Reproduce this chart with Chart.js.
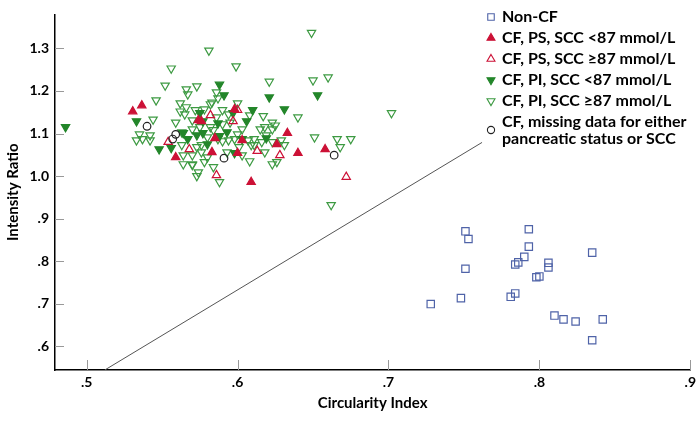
<!DOCTYPE html>
<html>
<head>
<meta charset="utf-8">
<script src="https://cdn.jsdelivr.net/npm/chart.js@4.4.1/dist/chart.umd.min.js"></script>
<style>
html, body { margin: 0; padding: 0; background: #fff; }
</style>
</head>
<body>
<canvas id="myChart" width="700" height="425"></canvas>
<script>
// tick values on both axes
var xTicks = [0.5, 0.6, 0.7, 0.8, 0.9];
var yTicks = [0.6, 0.7, 0.8, 0.9, 1.0, 1.1, 1.2, 1.3];

// [circularity index, intensity ratio]
var nonCF = [
    [0.751, 0.870], [0.753, 0.852], [0.793, 0.875], [0.793, 0.834], [0.835, 0.820],
    [0.790, 0.810], [0.786, 0.797], [0.784, 0.792], [0.806, 0.796], [0.806, 0.785],
    [0.751, 0.782], [0.798, 0.762], [0.800, 0.764], [0.784, 0.724], [0.781, 0.716],
    [0.748, 0.713], [0.728, 0.699], [0.810, 0.672], [0.816, 0.663], [0.824, 0.658],
    [0.842, 0.663], [0.835, 0.614]
];
var psLow = [
    [0.5305, 1.152], [0.5365, 1.166], [0.574, 1.131], [0.576, 1.129], [0.598, 1.157],
    [0.585, 1.089], [0.583, 1.056], [0.559, 1.044], [0.600, 1.054], [0.603, 1.084],
    [0.633, 1.101], [0.626, 1.075], [0.640, 1.054], [0.658, 1.063], [0.609, 0.986]
];
var psHigh = [
    [0.582, 1.143], [0.600, 1.155], [0.597, 1.129], [0.554, 1.080], [0.568, 1.063],
    [0.613, 1.059], [0.628, 1.049], [0.586, 1.002], [0.672, 0.998]
];
var piLow = [
    [0.486, 1.115], [0.533, 1.129], [0.548, 1.063], [0.556, 1.066], [0.564, 1.101],
    [0.567, 1.087], [0.573, 1.096], [0.575, 1.148], [0.577, 1.129], [0.577, 1.101],
    [0.580, 1.075], [0.587, 1.124], [0.588, 1.215], [0.591, 1.190], [0.588, 1.094],
    [0.593, 1.103], [0.597, 1.148], [0.598, 1.054], [0.603, 1.087], [0.606, 1.129],
    [0.610, 1.155], [0.619, 1.089], [0.621, 1.185], [0.631, 1.157], [0.653, 1.190]
];
var piHigh = [
    [0.649, 1.337], [0.581, 1.295], [0.599, 1.258], [0.556, 1.253], [0.621, 1.222],
    [0.650, 1.225], [0.660, 1.232], [0.702, 1.148], [0.640, 1.138], [0.651, 1.091],
    [0.666, 1.087], [0.675, 1.087], [0.668, 1.068], [0.662, 0.932], [0.623, 1.028],
    [0.588, 0.986], [0.584, 1.021], [0.573, 1.000], [0.570, 1.028], [0.552, 1.213],
    [0.573, 1.211], [0.566, 1.204], [0.567, 1.192], [0.546, 1.178], [0.562, 1.171],
    [0.566, 1.162], [0.562, 1.152], [0.565, 1.145], [0.570, 1.131], [0.572, 1.155],
    [0.583, 1.173], [0.587, 1.183], [0.578, 1.157], [0.570, 1.110], [0.563, 1.103],
    [0.535, 1.098], [0.542, 1.096], [0.533, 1.084], [0.537, 1.087], [0.542, 1.084],
    [0.544, 1.133], [0.563, 1.073], [0.564, 1.049], [0.570, 1.049], [0.564, 1.028],
    [0.570, 1.026], [0.574, 1.009], [0.580, 1.044], [0.576, 1.073], [0.576, 1.056],
    [0.573, 1.068], [0.587, 1.087], [0.594, 1.084], [0.598, 1.087], [0.607, 1.084],
    [0.611, 1.073], [0.608, 1.035], [0.631, 1.073], [0.629, 1.084], [0.603, 1.049],
    [0.593, 1.056], [0.600, 1.171], [0.590, 1.155], [0.617, 1.141], [0.623, 1.126],
    [0.625, 1.119], [0.615, 1.110], [0.618, 1.115], [0.608, 1.143], [0.590, 1.122],
    [0.586, 1.138], [0.582, 1.169], [0.594, 1.145], [0.623, 1.110], [0.580, 1.091],
    [0.590, 1.082], [0.609, 1.073], [0.611, 1.087], [0.619, 1.096], [0.623, 1.080],
    [0.626, 1.033], [0.559, 1.126], [0.603, 1.110], [0.600, 1.098], [0.616, 1.080],
    [0.586, 1.197], [0.595, 1.126], [0.582, 1.115], [0.575, 1.115], [0.584, 1.108],
    [0.601, 1.068], [0.618, 1.056], [0.578, 1.033]
];
var missing = [
    [0.540, 1.117], [0.559, 1.098], [0.557, 1.087], [0.591, 1.042], [0.664, 1.049]
];
// separating line, two end points
var sepLine = [[0.512, 0.544], [0.762, 1.079]];

var legendLabels = [
    ['Non-CF'],
    ['CF, PS, SCC <87 mmol/L'],
    ['CF, PS, SCC \u226587 mmol/L'],
    ['CF, PI, SCC <87 mmol/L'],
    ['CF, PI, SCC \u226587 mmol/L'],
    ['CF, missing data for either', 'pancreatic status or SCC']
];

var RED = '#cc1136';
var GREEN = '#23862a';
var GREEN2 = '#3d9a42';
var BLUE = '#4f63a8';

function toXY(arr) {
    return arr.map(function (p) { return { x: p[0], y: p[1] }; });
}
function fmt(v) {
    var s = v.toFixed(1);
    return s.charAt(0) === '0' ? s.slice(1) : s;
}

function marker(label, data, style, rot, color, filled, r) {
    return {
        type: 'scatter',
        label: label,
        data: toXY(data),
        pointStyle: style,
        rotation: rot,
        radius: r,
        pointRadius: r,
        borderWidth: 1.2,
        pointBorderColor: color,
        pointBackgroundColor: filled ? color : 'rgba(0,0,0,0)'
    };
}

var datasets = [
    marker(legendLabels[5][0], missing, 'circle', 0, '#222', false, 3.8),
    marker(legendLabels[1][0], psLow, 'triangle', 0, RED, true, 4.8),
    marker(legendLabels[2][0], psHigh, 'triangle', 0, RED, false, 4.8),
    marker(legendLabels[3][0], piLow, 'triangle', 180, GREEN, true, 4.8),
    marker(legendLabels[4][0], piHigh, 'triangle', 180, GREEN2, false, 4.8),
    marker(legendLabels[0][0], nonCF, 'rect', 0, BLUE, false, 5.2),
    {
        type: 'line',
        label: 'line',
        data: toXY(sepLine),
        borderColor: '#555',
        borderWidth: 1,
        pointRadius: 0,
        fill: false
    }
];

var legendStyle = [
    { s: 'rect', rot: 0, c: BLUE, f: false, r: 4.6 },
    { s: 'triangle', rot: 0, c: RED, f: true, r: 4.6 },
    { s: 'triangle', rot: 0, c: RED, f: false, r: 4.6 },
    { s: 'triangle', rot: 180, c: GREEN, f: true, r: 4.6 },
    { s: 'triangle', rot: 180, c: GREEN2, f: false, r: 4.6 },
    { s: 'circle', rot: 0, c: '#222', f: false, r: 3.6 }
];

// small inward tick marks on both axes
var tickMarks = {
    id: 'tickMarks',
    afterDatasetsDraw: function (chart) {
        var ctx = chart.ctx, a = chart.chartArea;
        var xs = chart.scales.x, ys = chart.scales.y;
        ctx.save();
        ctx.strokeStyle = '#999';
        ctx.lineWidth = 1;
        ctx.beginPath();
        xTicks.forEach(function (v) {
            var px = Math.round(xs.getPixelForValue(v)) + 0.5;
            ctx.moveTo(px, a.bottom);
            ctx.lineTo(px, a.bottom - 10);
        });
        yTicks.forEach(function (v) {
            var py = Math.round(ys.getPixelForValue(v)) + 0.5;
            ctx.moveTo(a.left, py);
            ctx.lineTo(a.left + 9, py);
        });
        ctx.stroke();
        ctx.restore();
    }
};

// legend drawn inside the plot, top right
var innerLegend = {
    id: 'innerLegend',
    afterDraw: function (chart) {
        var ctx = chart.ctx;
        var mx = 491, tx = 502, y = 17, row = 21;
        ctx.save();
        ctx.font = 'bold 16px Lato';
        ctx.textBaseline = 'middle';
        ctx.fillStyle = '#000';
        legendLabels.forEach(function (lines, i) {
            var st = legendStyle[i];
            var my = lines.length > 1 ? y + 8 : y;
            ctx.fillStyle = st.f ? st.c : 'rgba(0,0,0,0)';
            ctx.strokeStyle = st.c;
            ctx.lineWidth = 1.1;
            Chart.helpers.drawPoint(ctx, { pointStyle: st.s, rotation: st.rot, radius: st.r, borderWidth: 1.1 }, mx, my);
            ctx.fillStyle = '#000';
            lines.forEach(function (t, j) {
                ctx.fillText(t, tx, y + j * 17);
            });
            y += row;
        });
        ctx.restore();
    }
};

var ctx = document.getElementById('myChart').getContext('2d');
var chart = new Chart(ctx, {
    type: 'scatter',
    data: { datasets: datasets },
    plugins: [tickMarks, innerLegend],
    options: {
        responsive: false,
        animation: false,
        layout: { padding: { top: 13, right: 9, bottom: 9, left: 0 } },
        plugins: {
            legend: { display: false },
            tooltip: { enabled: false }
        },
        scales: {
            x: {
                type: 'linear',
                min: 0.479,
                max: 0.9,
                afterBuildTicks: function (s) { s.ticks = xTicks.map(function (v) { return { value: v }; }); },
                afterFit: function (s) { s.height = 46; },
                grid: { display: false, drawTicks: false },
                border: { display: true, color: '#000', width: 1.5 },
                ticks: {
                    padding: 4,
                    color: '#000',
                    font: { family: 'Lato', size: 14, weight: 'bold' },
                    callback: function (v) { return fmt(v); }
                },
                title: {
                    display: true,
                    text: 'Circularity Index',
                    color: '#000',
                    font: { family: 'Lato', size: 15, weight: 'bold' }
                }
            },
            y: {
                type: 'linear',
                min: 0.544,
                max: 1.38,
                afterBuildTicks: function (s) { s.ticks = yTicks.map(function (v) { return { value: v }; }); },
                afterFit: function (s) { s.width = 55; },
                grid: { display: false, drawTicks: false },
                border: { display: true, color: '#000', width: 1.5 },
                ticks: {
                    padding: 6,
                    color: '#000',
                    font: { family: 'Lato', size: 14, weight: 'bold' },
                    callback: function (v) { return fmt(v); }
                },
                title: {
                    display: true,
                    text: 'Intensity Ratio',
                    color: '#000',
                    font: { family: 'Lato', size: 15, weight: 'bold' }
                }
            }
        }
    }
});
</script>
</body>
</html>
